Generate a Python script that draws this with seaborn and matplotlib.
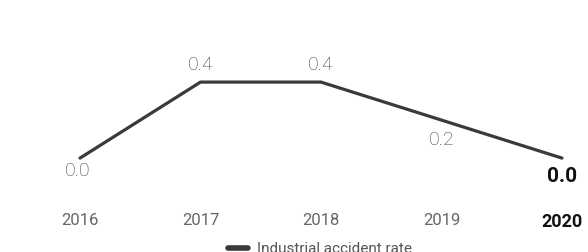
import matplotlib
matplotlib.use("Agg")
import matplotlib.pyplot as plt
import seaborn as sns
import pandas as pd

# chart data
years = ["2016", "2017", "2018", "2019", "2020"]
accident_rate = [0.0, 0.4, 0.4, 0.2, 0.0]
series_name = "Industrial accident rate"

sns.set_theme(style="white")
plt.rcParams["font.family"] = ["Roboto", "DejaVu Sans"]

df = pd.DataFrame({"x": range(len(years)), "rate": accident_rate})

fig = plt.figure(figsize=(5.88, 2.52), dpi=100)
ax = fig.add_axes([0, 0.206, 1, 0.794])

sns.lineplot(data=df, x="x", y="rate", color="#3a3a3a", linewidth=2.3,
             label=series_name, ax=ax, legend=False)

ax.set_xlim(-0.664, 4.216)
ax.set_ylim(-0.221, 0.832)
for s in ax.spines.values():
    s.set_visible(False)
ax.set_yticks([])
ax.set_xticks(df["x"])
ax.set_xticklabels(years)
ax.tick_params(axis="x", length=0, pad=9, labelsize=12, labelcolor="#666666")
ax.set_xlabel("")
ax.set_ylabel("")
last = ax.get_xticklabels()[-1]
last.set_fontweight("bold")
last.set_color("#111111")
last.set_fontsize(13)

# value labels: above for peaks, below otherwise
offsets = [-9.5, 12, 12, -14.5, -13]
n = len(years)
for i, (xv, v) in enumerate(zip(df["x"], accident_rate)):
    if i == n - 1:
        ax.annotate(f"{v:.1f}", (xv, v), xytext=(0, offsets[i]), textcoords="offset points",
                    ha="center", va="center", fontsize=15, fontweight="bold", color="#111111")
    else:
        ax.annotate(f"{v:.1f}", (xv, v), xytext=(-1.5 if i == 0 else 0, offsets[i]),
                    textcoords="offset points", ha="center", va="center",
                    fontsize=14, fontweight="light", color="#444444")

handles = [plt.Line2D([], [], color="#3a3a3a", linewidth=4)]
leg = fig.legend(handles, [series_name], loc="center", bbox_to_anchor=(0.544, 0.01),
                 frameon=False, fontsize=11, handlelength=1.3, handletextpad=0.6)
for t in leg.get_texts():
    t.set_color("#555555")

fig.savefig("out.png", dpi=100)
